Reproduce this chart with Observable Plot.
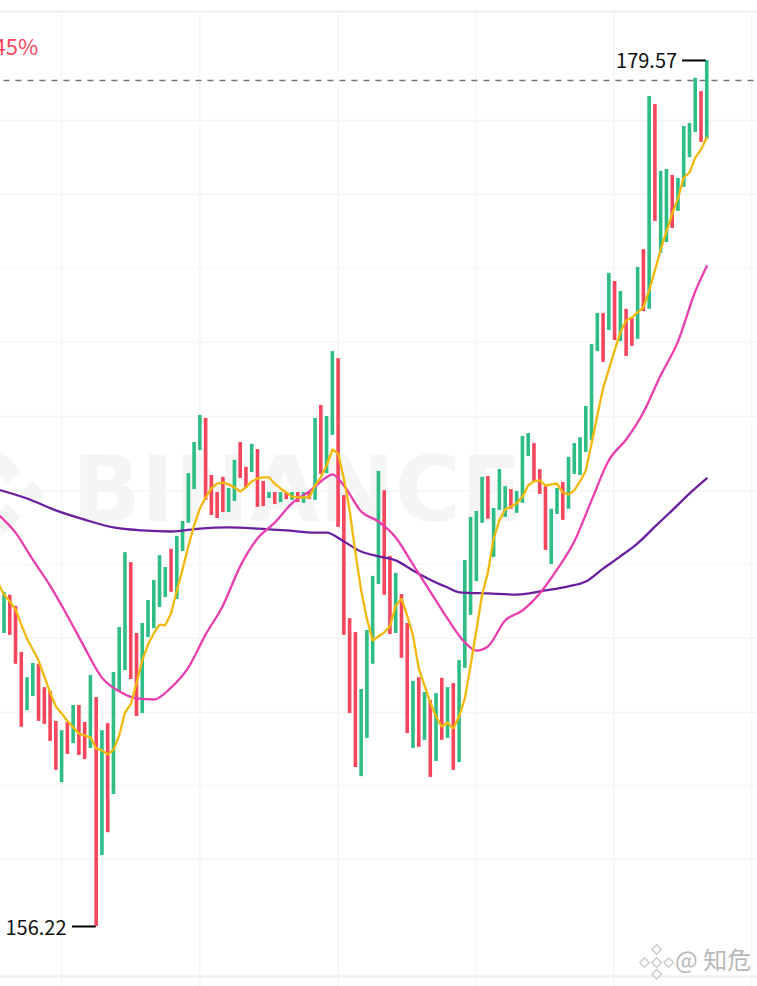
<!DOCTYPE html>
<html>
<head>
<meta charset="utf-8">
<style>html,body{margin:0;padding:0;background:#fff}svg{display:block}</style>
<script src="https://cdn.jsdelivr.net/npm/d3@7"></script>
<script src="https://cdn.jsdelivr.net/npm/@observablehq/plot@0.6"></script>
</head>
<body>
<div id="chart"></div>
<script>
// Candles run from index -1 to 122
const firstIndex = -1;
const sideList = "r g r r r g g r r r r g r g r r g r g r g g g r r g g g g g r g g g g g r r r r g g r r g r r g r g r g r g r g r g g r r r r g g g g r r g r r g r g r g r g r g g g g g r g g g r g g g r r r g g r g g g g g g r g r g r r g r g r g g r g g g g r g".split(" ");
const highs = [165.47,165.23,165.15,164.85,163.61,162.93,163.31,163.29,162.66,162.56,161.75,161.50,161.72,162.18,162.18,161.72,162.99,162.39,161.50,161.69,163.07,164.28,166.30,166.03,164.12,164.39,165.01,165.55,166.22,165.90,166.39,166.74,167.14,168.43,169.27,170.00,169.92,168.38,167.92,168.33,168.03,168.79,169.27,168.60,169.22,169.08,168.22,167.92,167.92,167.92,167.92,167.92,167.92,167.92,167.92,169.92,170.27,169.97,171.72,171.53,167.84,164.52,164.15,162.61,164.20,165.66,168.49,167.97,166.20,165.74,165.17,164.39,162.83,162.93,162.53,162.31,162.50,162.91,162.66,162.77,163.39,166.09,167.25,167.41,168.33,168.35,167.49,168.54,168.08,168.00,167.95,169.43,169.51,169.24,168.54,168.08,167.47,168.03,168.19,168.87,169.24,169.40,170.24,171.91,172.75,172.75,173.83,173.61,173.34,172.86,172.61,173.99,174.47,178.60,178.38,176.58,176.63,176.47,176.39,177.79,177.87,179.09,178.73,179.57];
const lows = [164.42,164.12,164.07,163.29,161.59,162.04,162.42,161.75,161.67,161.21,160.43,160.10,160.86,161.15,160.83,160.72,161.02,156.22,158.13,158.75,159.78,162.53,163.12,162.88,161.88,161.96,164.01,164.25,164.82,165.09,165.23,165.04,166.33,167.09,168.00,169.05,167.71,167.30,167.22,167.38,167.38,167.68,168.30,168.03,168.46,167.52,167.54,167.76,167.60,167.65,167.73,167.71,167.65,167.63,167.73,167.71,168.41,168.43,169.46,166.98,164.07,161.96,160.51,160.26,161.29,163.29,165.44,165.15,164.09,164.12,163.45,161.42,161.02,161.05,161.24,160.24,160.67,161.24,161.29,160.43,160.64,163.18,164.61,165.52,167.09,167.20,166.17,167.44,167.25,167.47,167.36,167.63,168.89,168.19,167.87,166.36,165.98,167.33,167.17,167.47,168.41,168.38,169.00,169.32,171.72,171.43,172.29,172.02,171.99,171.59,171.86,172.05,172.80,172.86,175.23,174.37,174.66,175.04,175.50,176.15,176.95,177.63,177.36,177.44];
const ma7 = [165.47,165.17,164.98,164.77,164.36,163.98,163.69,163.39,162.96,162.53,162.15,161.96,161.77,161.59,161.42,161.37,161.32,161.02,160.97,160.86,160.99,161.37,161.99,162.21,162.77,163.39,163.82,164.12,164.36,164.34,164.66,165.28,165.85,166.47,167.03,167.49,167.79,168.03,168.16,168.19,168.14,168.06,167.95,168.06,168.22,168.30,168.33,168.33,168.16,168.03,167.92,167.81,167.79,167.79,167.79,168.11,168.33,168.65,169.08,168.97,168.30,167.44,166.30,165.28,164.52,163.93,164.04,164.15,164.31,164.87,165.06,164.60,164.07,163.18,162.72,162.26,161.88,161.61,161.72,161.56,161.88,162.37,163.26,164.20,165.17,165.76,166.68,167.17,167.47,167.54,167.63,167.81,168.11,168.22,168.25,168.11,168.14,168.16,167.92,167.87,167.98,168.22,168.51,169.24,170.00,170.73,171.24,171.75,172.24,172.56,172.64,172.78,172.91,173.37,173.91,174.47,174.96,175.43,175.85,176.41,176.55,176.95,177.17,177.49];
const ma25Index = [-1,2,5,8,11,14,17,20,23,26,29,32,35,38,41,44,47,50,53,56,57,59,62,65,68,71,74,77,80,82,84,87,90,93,96,99,102,105,108,111,114,117,120,122];
const ma25 = [167.33,166.84,166.11,165.41,164.60,163.74,162.93,162.56,162.37,162.34,162.66,163.20,164.09,164.87,165.93,166.68,167.11,167.63,167.95,168.33,168.41,168.11,167.41,167.14,166.71,165.98,165.25,164.52,163.88,163.66,163.77,164.47,164.74,165.20,165.84,166.60,167.71,168.79,169.35,170.08,171.08,171.99,173.34,174.02];
const ma99Index = [-1,4,9,14,19,24,29,34,39,44,49,54,56,59,62,65,68,71,74,77,79,84,89,94,98,101,104,107,110,113,116,119,122];
const ma99 = [168.00,167.76,167.44,167.19,166.98,166.90,166.87,166.95,166.98,166.95,166.90,166.84,166.84,166.60,166.33,166.20,166.09,165.82,165.57,165.36,165.23,165.20,165.17,165.28,165.39,165.52,165.87,166.20,166.55,167.00,167.44,167.89,168.30];

const lastPrice = 179.03;
const highLabel = {index: 122, price: 179.57, text: "179.57"};
const lowLabel = {index: 16, price: 156.22, text: "156.22"};
const changeText = "45%";
const creditText = "@ 知危";
const watermarkText = "BINANCE";
const gridPrices = [177.95,175.96,173.96,171.97,169.97,167.97,165.98,163.99,161.99,160.02,158.03];
const gridIndices = [10.0,34.0,58.0,81.9,105.9,129.8];

const UP = "#2EBD85", DOWN = "#F6465D", WM = "#F5F5F5";
const candles = highs.map((h, i) => ({i: firstIndex + i, h, l: lows[i], side: sideList[i]}));
const line7 = ma7.map((p, i) => ({i: firstIndex + i, p}));
const line25 = ma25.map((p, i) => ({i: ma25Index[i], p}));
const line99 = ma99.map((p, i) => ({i: ma99Index[i], p}));

const xDomain = [-0.816, 130.6], yDomain = [181.187, 154.602];
const E = xDomain[1], TOP = 180.89, BOT = 154.87;
const font = "'Noto Sans CJK SC','Noto Sans',sans-serif";

const chart = Plot.plot({
  width: 757, height: 986,
  marginTop: 0, marginRight: 0, marginBottom: 0, marginLeft: 0,
  style: {background: "#fff", fontFamily: font},
  x: {domain: xDomain, range: [-1.2, 755.8], axis: null},
  y: {domain: yDomain, range: [0, 986], axis: null},
  marks: [
    // grid
    Plot.ruleY(gridPrices, {stroke: "#F6F6F6", strokeWidth: 1.6}),
    Plot.ruleX(gridIndices, {y1: TOP, y2: yDomain[1], stroke: "#F6F6F6", strokeWidth: 1.6}),
    Plot.ruleY([TOP, BOT], {stroke: "#EEEEEE", strokeWidth: 2}),
    // watermark
    Plot.text([watermarkText], {x: [50.9], y: [167.93], text: d => d, fontSize: 90, fontWeight: 700, fill: WM, fontFamily: "'DejaVu Sans',sans-serif"}),
    Plot.dot([{i: 4.95, p: 167.9}], {x: "i", y: "p", symbol: "square", r: 10, rotate: 45, fill: WM}),
    Plot.line([{i: -1.5, p: 168.84}, {i: 1.7, p: 168.33}], {x: "i", y: "p", stroke: WM, strokeWidth: 19, strokeLinecap: "butt"}),
    Plot.line([{i: -1.5, p: 166.93}, {i: 1.7, p: 167.44}], {x: "i", y: "p", stroke: WM, strokeWidth: 19, strokeLinecap: "butt"}),
    // last price
    Plot.ruleY([lastPrice], {x1: 0, x2: E, stroke: "#777", strokeWidth: 1.4, strokeDasharray: "6,6"}),
    // candles
    Plot.ruleX(candles, {x: "i", y1: "h", y2: "l", stroke: d => d.side === "g" ? UP : DOWN, strokeWidth: 3.6}),
    // moving averages
    Plot.line(line99, {x: "i", y: "p", stroke: "#6B1F9E", strokeWidth: 2.3, curve: "monotone-x"}),
    Plot.line(line25, {x: "i", y: "p", stroke: "#E93DB0", strokeWidth: 2.3, curve: "monotone-x"}),
    Plot.line(line7, {x: "i", y: "p", stroke: "#F0B90B", strokeWidth: 2.3}),
    // high / low tags
    Plot.ruleY([highLabel], {y: "price", x1: d => d.index - 4.2, x2: d => d.index - 0.1, stroke: "#000", strokeWidth: 2}),
    Plot.text([highLabel], {x: d => d.index - 5.15, y: "price", dy: 1, text: "text", textAnchor: "end", fontSize: 20, fill: "#111", fontFamily: font}),
    Plot.ruleY([lowLabel], {y: "price", x1: d => d.index - 4.1, x2: d => d.index, stroke: "#000", strokeWidth: 2}),
    Plot.text([lowLabel], {x: d => d.index - 5.15, y: "price", dy: 2, text: "text", textAnchor: "end", fontSize: 20, fill: "#111", fontFamily: font}),
    // change text clipped at the left edge
    Plot.text([changeText], {x: [5.95], y: [179.92], text: d => d, textAnchor: "end", fontSize: 22, fill: DOWN, fontFamily: font}),
    // bottom-right credit
    Plot.dot([{i: 113.3, p: 155.6}, {i: 111.2, p: 155.25}, {i: 115.4, p: 155.25}, {i: 113.3, p: 154.93}, {i: 113.3, p: 155.25}], {x: "i", y: "p", symbol: "square", r: 3.8, rotate: 45, fill: "#fff", stroke: "#CCC", strokeWidth: 1.4}),
    Plot.text([creditText], {x: [116.5], y: [155.28], text: d => d, textAnchor: "start", fontSize: 24, fill: "#B8B8B8", fontFamily: font})
  ]
});
document.getElementById("chart").append(chart);
</script>
</body>
</html>
